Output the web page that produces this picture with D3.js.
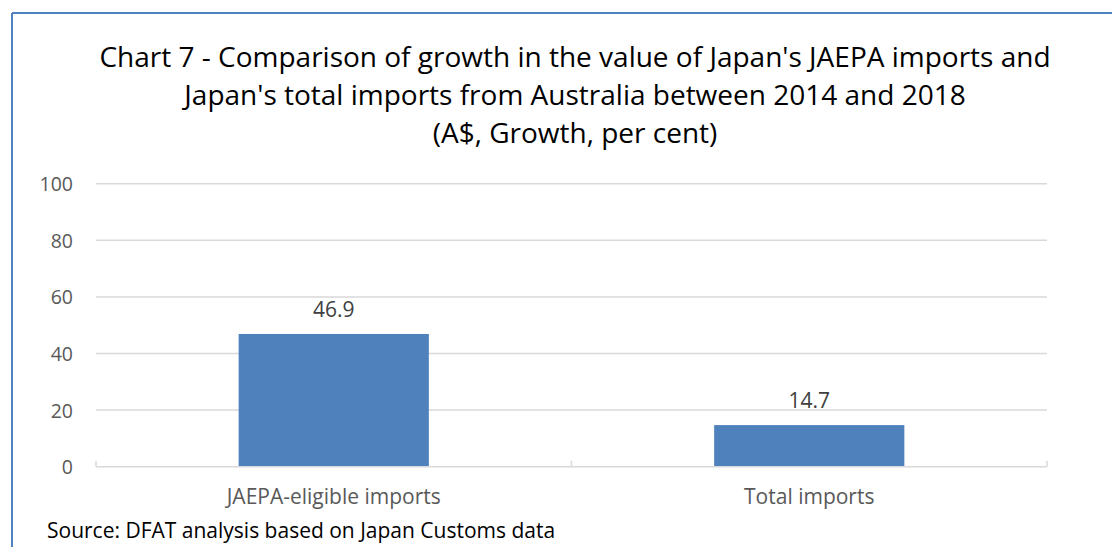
<!DOCTYPE html>
<html>
<head>
<meta charset="utf-8">
<script src="https://cdn.jsdelivr.net/npm/d3@7"></script>
<style>
  html, body { margin: 0; padding: 0; background: #fff; }
  svg { display: block; font-family: "Open Sans", "Noto Sans", sans-serif; }
</style>
</head>
<body>
<svg id="chart" width="1112" height="547"></svg>
<script>
// Growth in value of imports from Australia, 2014 to 2018 (per cent)
const categories = ["JAEPA-eligible imports", "Total imports"];
const growth = [46.9, 14.7];
const yTicks = [0, 20, 40, 60, 80, 100];
const titleLines = [
  "Chart 7 - Comparison of growth in the value of Japan's JAEPA imports and",
  "Japan's total imports from Australia between 2014 and 2018",
  "(A$, Growth, per cent)"
];
const sourceNote = "Source: DFAT analysis based on Japan Customs data";

const svg = d3.select("#chart");
const W = 1112, H = 547;
const plot = { left: 96, right: 1047, top: 183.7, bottom: 466.7 };

// frame (top and left edges)
svg.append("line").attr("x1", 12).attr("x2", W).attr("y1", 13).attr("y2", 13)
  .attr("stroke", "#4f81bd").attr("stroke-width", 2);
svg.append("line").attr("x1", 12).attr("x2", 12).attr("y1", 13).attr("y2", H)
  .attr("stroke", "#4f81bd").attr("stroke-width", 2);

// title
const title = svg.append("text").attr("text-anchor", "middle").attr("fill", "#000")
  .style("font-size", "28px");
titleLines.forEach((t, i) => {
  title.append("tspan").attr("x", 575).attr("y", 67 + i * 38).text(t);
});

const x = d3.scaleBand().domain(categories)
  .range([plot.left, plot.right]).paddingInner(0.6).paddingOuter(0.3);
const y = d3.scaleLinear().domain([0, 100]).range([plot.bottom, plot.top]);

// gridlines
svg.append("g").selectAll("line").data(yTicks.filter(d => d > 0)).join("line")
  .attr("x1", plot.left).attr("x2", plot.right)
  .attr("y1", d => y(d)).attr("y2", d => y(d))
  .attr("stroke", "#d9d9d9").attr("stroke-width", 1.5);

// y axis labels
const yAxis = svg.append("g").attr("transform", `translate(${plot.left - 23},0)`)
  .call(d3.axisLeft(y).tickValues(yTicks).tickSize(0).tickPadding(0));
yAxis.select(".domain").remove();
yAxis.selectAll("text").attr("fill", "#595959").attr("dy", "0.36em").style("font-size", "19.5px")
  .style("font-family", "'Open Sans', sans-serif");

// bars
svg.append("g").selectAll("rect").data(growth).join("rect")
  .attr("x", (d, i) => x(categories[i]))
  .attr("width", x.bandwidth())
  .attr("y", d => y(d))
  .attr("height", d => y(0) - y(d))
  .attr("fill", "#4f81bd");

// value labels
svg.append("g").selectAll("text").data(growth).join("text")
  .attr("x", (d, i) => x(categories[i]) + x.bandwidth() / 2)
  .attr("y", d => y(d) - 17)
  .attr("text-anchor", "middle").attr("fill", "#404040")
  .style("font-size", "21px")
  .text(d => d.toFixed(1));

// category axis with inward ticks at band edges
const base = svg.append("g");
base.append("line").attr("x1", plot.left).attr("x2", plot.right)
  .attr("y1", y(0)).attr("y2", y(0)).attr("stroke", "#d9d9d9").attr("stroke-width", 1.5);
const edges = [plot.left, ...categories.slice(1).map(c => x(c) - x.step() * x.paddingInner() / 2), plot.right];
base.selectAll("line.edge").data(edges).join("line").attr("class", "edge")
  .attr("x1", d => d).attr("x2", d => d)
  .attr("y1", y(0)).attr("y2", y(0) - 6)
  .attr("stroke", "#d9d9d9").attr("stroke-width", 1.5);
base.selectAll("text").data(categories).join("text")
  .attr("x", d => x(d) + x.bandwidth() / 2)
  .attr("y", 504)
  .attr("text-anchor", "middle").attr("fill", "#595959")
  .style("font-size", "21px")
  .text(d => d);

// source note
svg.append("text").attr("x", 47).attr("y", 538).attr("fill", "#000")
  .style("font-size", "21px").text(sourceNote);
</script>
</body>
</html>
